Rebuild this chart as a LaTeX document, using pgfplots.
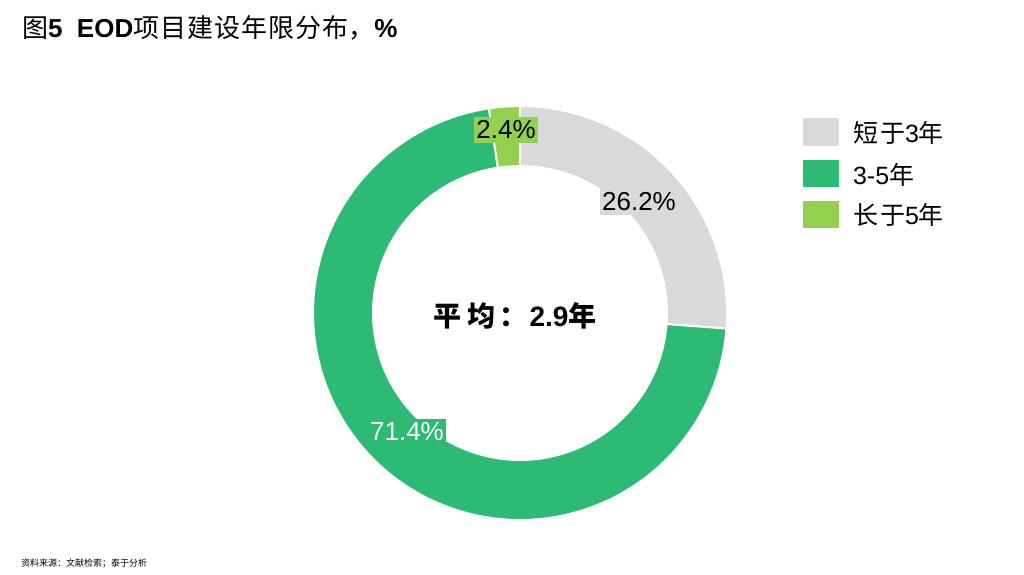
\documentclass[border=0pt]{standalone}
\usepackage{pgfplots}
\pgfplotsset{compat=1.18}
\usepackage{fontspec}
\setmainfont{Liberation Sans}
\newfontfamily\cjk{Noto Sans CJK SC}
\definecolor{cgrey}{HTML}{D9D9D9}
\definecolor{cgreen}{HTML}{2CBA74}
\definecolor{clight}{HTML}{92D050}
\begin{document}
\begin{tikzpicture}
\begin{axis}[
    x=0.5pt, y=0.5pt,
    xmin=0, xmax=1024, ymin=0, ymax=574,
    hide axis, clip=false,
    anchor=origin,
]
% donut slices: shares in percent, starting at 12 o'clock, clockwise
% 短于3年 26.2, 3-5年 71.4, 长于5年 2.4
\addplot[fill=cgrey, draw=white, line width=1pt, domain=0:26.2, samples=60, variable=\t]
    ({520+207*cos(90-3.6*t)}, {261+207*sin(90-3.6*t)}) -- (axis cs:520,261) -- cycle;
\addplot[fill=cgreen, draw=white, line width=1pt, domain=26.2:97.6, samples=150, variable=\t]
    ({520+207*cos(90-3.6*t)}, {261+207*sin(90-3.6*t)}) -- (axis cs:520,261) -- cycle;
\addplot[fill=clight, draw=white, line width=1pt, domain=97.6:100, samples=10, variable=\t]
    ({520+207*cos(90-3.6*t)}, {261+207*sin(90-3.6*t)}) -- (axis cs:520,261) -- cycle;
% hole
\addplot[fill=white, draw=none, domain=0:360, samples=150]
    ({520+148*cos(x)}, {261+148*sin(x)}) -- cycle;

% data labels
\node[fill=cgrey, inner xsep=1pt, inner ysep=2pt, font=\fontsize{13}{13}\selectfont] at (axis cs:639,372) {26.2\%};
\node[fill=cgreen, text=white, inner xsep=1pt, inner ysep=2pt, font=\fontsize{13}{13}\selectfont] at (axis cs:407,142) {71.4\%};
\node[fill=clight, inner xsep=1pt, inner ysep=2pt, font=\fontsize{13}{13}\selectfont] at (axis cs:506,444) {2.4\%};

% centre text
\node[font=\fontsize{14}{14}\selectfont] at (axis cs:515,258) {{\cjk\bfseries 平\hspace{3pt}均\hspace{2pt}：}\hspace{1pt}\textbf{2.9}{\cjk\bfseries 年}};

% legend
\fill[cgrey] (axis cs:803,428) rectangle (axis cs:839,456);
\fill[cgreen] (axis cs:803,387) rectangle (axis cs:839,414);
\fill[clight] (axis cs:803,346) rectangle (axis cs:839,373);
\node[anchor=west, font=\fontsize{12.5}{13}\selectfont] at (axis cs:846,441) {{\cjk 短\hspace{1pt}于}3{\cjk 年}};
\node[anchor=west, font=\fontsize{12.5}{13}\selectfont] at (axis cs:846,399) {3-5{\cjk 年}};
\node[anchor=west, font=\fontsize{12.5}{13}\selectfont] at (axis cs:846,359) {{\cjk 长\hspace{1pt}于}5{\cjk 年}};

% title and source
\node[anchor=west, font=\fontsize{13}{13}\selectfont] at (axis cs:15,546) {{\cjk 图}\textbf{5\ \ EOD}{\cjk 项\hspace{0.5pt}目\hspace{0.5pt}建\hspace{0.5pt}设\hspace{0.5pt}年\hspace{0.5pt}限\hspace{0.5pt}分\hspace{0.5pt}布，}\textbf{\%}};
\node[anchor=west, font=\fontsize{4.5}{5}\selectfont] at (axis cs:14,11) {{\cjk 资料来源：文献检索；泰于分析}};

\path (axis cs:0,0) (axis cs:1024,574);
\end{axis}
\path[use as bounding box] (0,0) rectangle (512pt,287pt);
\end{tikzpicture}
\end{document}
